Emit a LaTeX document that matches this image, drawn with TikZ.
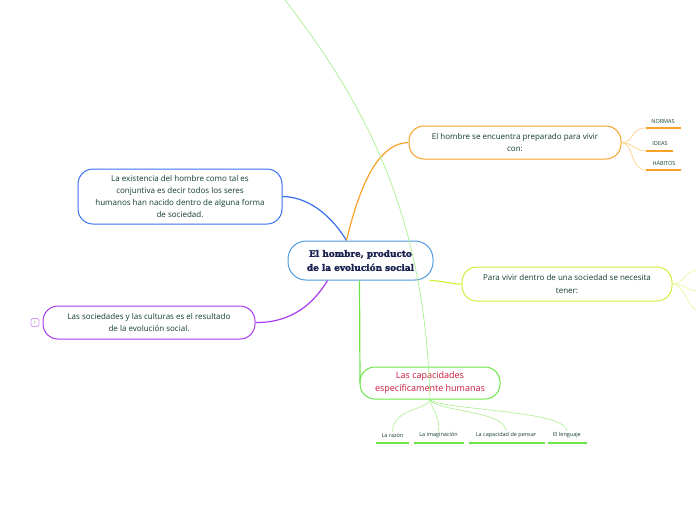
\documentclass[tikz,border=0pt]{standalone}
\usepackage{fontspec}
\setmainfont{Open Sans}
\newfontfamily\titlefont[BoldFeatures={FakeBold=2.2}]{DejaVu Serif}
\definecolor{cblue}{HTML}{3A6FF0}
\definecolor{corange}{HTML}{F7A128}
\definecolor{clorange}{HTML}{FCCB7A}
\definecolor{cpurple}{HTML}{A93BEF}
\definecolor{cyel}{HTML}{D5EE3A}
\definecolor{clyel}{HTML}{E9F59A}
\definecolor{cgreen}{HTML}{6BE54A}
\definecolor{clgreen}{HTML}{A8F08F}
\definecolor{ccenter}{HTML}{4F9BE0}
\definecolor{ctext}{HTML}{123D2C}
\definecolor{cnavy}{HTML}{1B2350}
\definecolor{cred}{HTML}{C8193C}
\tikzset{
  topic/.style={draw, rounded corners=15pt, fill=white, line width=1pt, align=center,
    text=ctext, font=\fontsize{8}{12.3}\selectfont, inner sep=0pt},
  leaf/.style={text=ctext, font=\fontsize{5.5}{7}\selectfont, inner sep=1pt},
  conn/.style={line width=1.2pt},
  twig/.style={line width=0.6pt},
  uline/.style={line width=1.6pt}
}
\begin{document}
\begin{tikzpicture}[x=1pt,y=-1pt]
\useasboundingbox (0,0) rectangle (696,520);
\clip (0,0) rectangle (696,520);
% coordinates for free ends
\coordinate (topend) at (285,0);
\coordinate (y1) at (697,270);
\coordinate (y2) at (697,291);
\coordinate (y3) at (697,311);

% nodes
\node[topic, draw=ccenter, text=cnavy, rounded corners=18pt, minimum width=145pt, minimum height=39pt,
  font=\titlefont\bfseries\fontsize{8.9}{14}\selectfont] (c) at (360.5,260.5) {El hombre, producto\\de la evolución social};
\node[topic, draw=corange, minimum width=212pt, minimum height=33pt] (o) at (515,142.5) {El hombre se encuentra preparado para vivir\\con:};
\node[topic, draw=cblue, minimum width=204pt, minimum height=55pt] (b) at (180,196.5) {La existencia del hombre como tal es\\conjuntiva es decir todos los seres\\humanos han nacido dentro de alguna forma\\de sociedad.};
\node[topic, draw=cpurple, minimum width=212pt, minimum height=33pt] (p) at (149,322.5) {Las sociedades y las culturas es el resultado\\de la evolución social.};
\node[topic, draw=cyel, minimum width=210pt, minimum height=34pt] (y) at (567,284) {Para vivir dentro de una sociedad se necesita\\tener:};
\node[topic, draw=cgreen, text=cred, minimum width=140pt, minimum height=32pt,
  font=\fontsize{9}{13}\selectfont] (g) at (430,383) {Las capacidades\\específicamente humanas};
\node[draw=cpurple!50, line width=0.8pt, rounded corners=1.5pt, minimum width=8pt, minimum height=8pt,
  inner sep=0pt, text=gray, font=\fontsize{4.5}{5}\selectfont] (one) at (35,322.5) {1};

% main connectors
\draw[conn, cblue] (b.east) .. controls (312,197) and (334,220) .. ([xshift=-14pt]c.north);
\draw[conn, corange] ([xshift=-14pt]c.north) .. controls (362,175) and (382,143) .. (o.west);
\draw[conn, cpurple] (p.east) .. controls (292,323) and (314,303) .. ([xshift=-33pt]c.south);
\draw[conn, cyel] ([xshift=69pt]c.south) .. controls (445,281) and (450,284) .. (y.west);
\draw[conn, cgreen] ([xshift=-1pt]c.south) -- ([xshift=-70pt]g.center);
\draw[line width=0.7pt, clgreen] (topend) .. controls (370,110) and (425,220) .. (g.south);

% orange children
\node[leaf] (n1) at (663,122) {NORMAS};
\node[leaf] (n2) at (660,143.5) {IDEAS};
\node[leaf] (n3) at (664,162.5) {HÁBITOS};
\draw[uline, corange] (646,128) coordinate (u1) -- (681,128);
\draw[uline, corange] (646,151) coordinate (u2) -- (673,151);
\draw[uline, corange] (646,170) coordinate (u3) -- (681,170);
\draw[twig, clorange] (o.east) .. controls (634,143) and (630,128) .. (u1);
\draw[twig, clorange] (o.east) .. controls (634,143) and (634,151) .. (u2);
\draw[twig, clorange] (o.east) .. controls (634,143) and (630,170) .. (u3);

% yellow children (off page)
\draw[twig, clyel] (y.east) .. controls (684,284) and (684,271) .. (y1);
\draw[twig, clyel] (y.east) .. controls (684,284) and (686,290) .. (y2);
\draw[twig, clyel] (y.east) .. controls (684,284) and (688,308) .. (y3);

% green children
\node[leaf] (r1) at (392.5,435) {La razón};
\node[leaf] (r2) at (438.5,435) {La imaginación};
\node[leaf] (r3) at (506,435) {La capacidad de pensar};
\node[leaf] (r4) at (567,435) {El lenguaje};
\draw[uline, cgreen] (376,443) -- (409,443);
\draw[uline, cgreen] (414,443) -- (464,443);
\draw[uline, cgreen] (469,443) -- (545,443);
\draw[uline, cgreen] (548,443) -- (587,443);
\draw[twig, clgreen] (g.south) .. controls (428,410) and (393,408) .. (r1.north);
\draw[twig, clgreen] (g.south) .. controls (432,410) and (440,416) .. (r2.north);
\draw[twig, clgreen] (g.south) .. controls (436,412) and (505,410) .. (r3.north);
\draw[twig, clgreen] (g.south) .. controls (440,410) and (566,410) .. (r4.north);
\end{tikzpicture}
\end{document}
